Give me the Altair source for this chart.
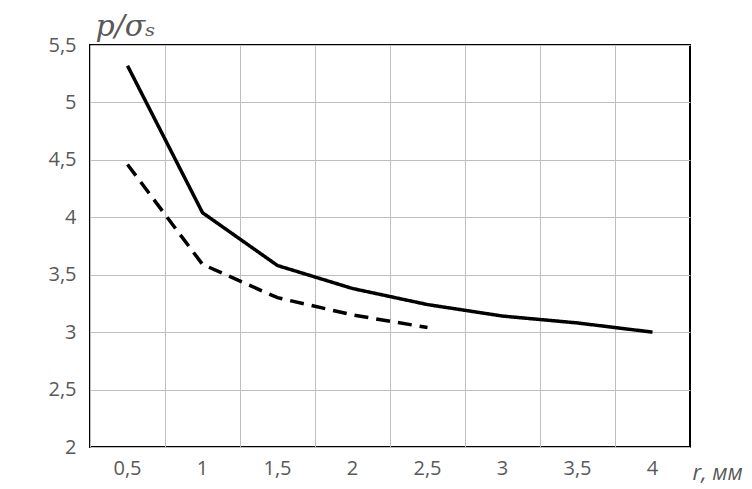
import altair as alt
import pandas as pd

r_solid = [0.5, 1, 1.5, 2, 2.5, 3, 3.5, 4]
p_solid = [5.32, 4.04, 3.58, 3.38, 3.24, 3.14, 3.08, 3.00]
r_dash = [0.5, 1, 1.5, 2, 2.5]
p_dash = [4.46, 3.59, 3.30, 3.15, 3.04]

df = pd.concat([
    pd.DataFrame({"r": r_solid, "p": p_solid, "s": "solid"}),
    pd.DataFrame({"r": r_dash, "p": p_dash, "s": "dash"}),
])

x = alt.X(
    "r:O",
    sort=r_solid,
    scale=alt.Scale(type="band", paddingInner=0, paddingOuter=0, domain=r_solid),
    bandPosition=0.5,
    axis=alt.Axis(
        grid=True, bandPosition=0, ticks=False, domain=False, labelAngle=0,
        labelPadding=11, labelExpr="replace(datum.label, '.', ',')",
        title="r, мм", titleX=602, titleY=32, titleAlign="left",
        titleBaseline="alphabetic", titleFontStyle="italic",
        titleFont="Open Sans",
    ),
)
y = alt.Y(
    "p:Q",
    scale=alt.Scale(domain=[2, 5.5], nice=False, zero=False),
    axis=alt.Axis(
        values=[2, 2.5, 3, 3.5, 4, 4.5, 5, 5.5], ticks=False, domain=False,
        labelPadding=14, labelExpr="replace(toString(datum.value), '.', ',')",
        title="p/σₛ", titleAngle=0, titleX=5, titleY=-10, titleAlign="left",
        titleBaseline="alphabetic", titleFont="DejaVu Serif", titleFontStyle="italic",
    ),
)

chart = alt.Chart(df).mark_line(color="black", strokeWidth=3.5).encode(
    x=x, y=y,
    detail="s:N",
    strokeDash=alt.StrokeDash(
        "s:N",
        scale=alt.Scale(domain=["solid", "dash"], range=[[1, 0], [14, 8]]),
        legend=None,
    ),
).properties(
    width=600, height=402,
    autosize=alt.AutoSizeParams(type="none"),
    padding={"left": 82, "top": 37, "right": 54, "bottom": 40},
).configure_view(
    stroke="black", strokeWidth=2
).configure_axis(
    gridColor="#bfbfbf", gridWidth=1,
    labelFont="Open Sans", labelFontSize=20, labelColor="#595959",
    titleFontSize=22, titleFontWeight="normal", titleColor="#595959",
).configure_axisY(
    titleFontSize=30,
)

chart.save("out.html", embed_options={"renderer": "svg", "actions": False})
